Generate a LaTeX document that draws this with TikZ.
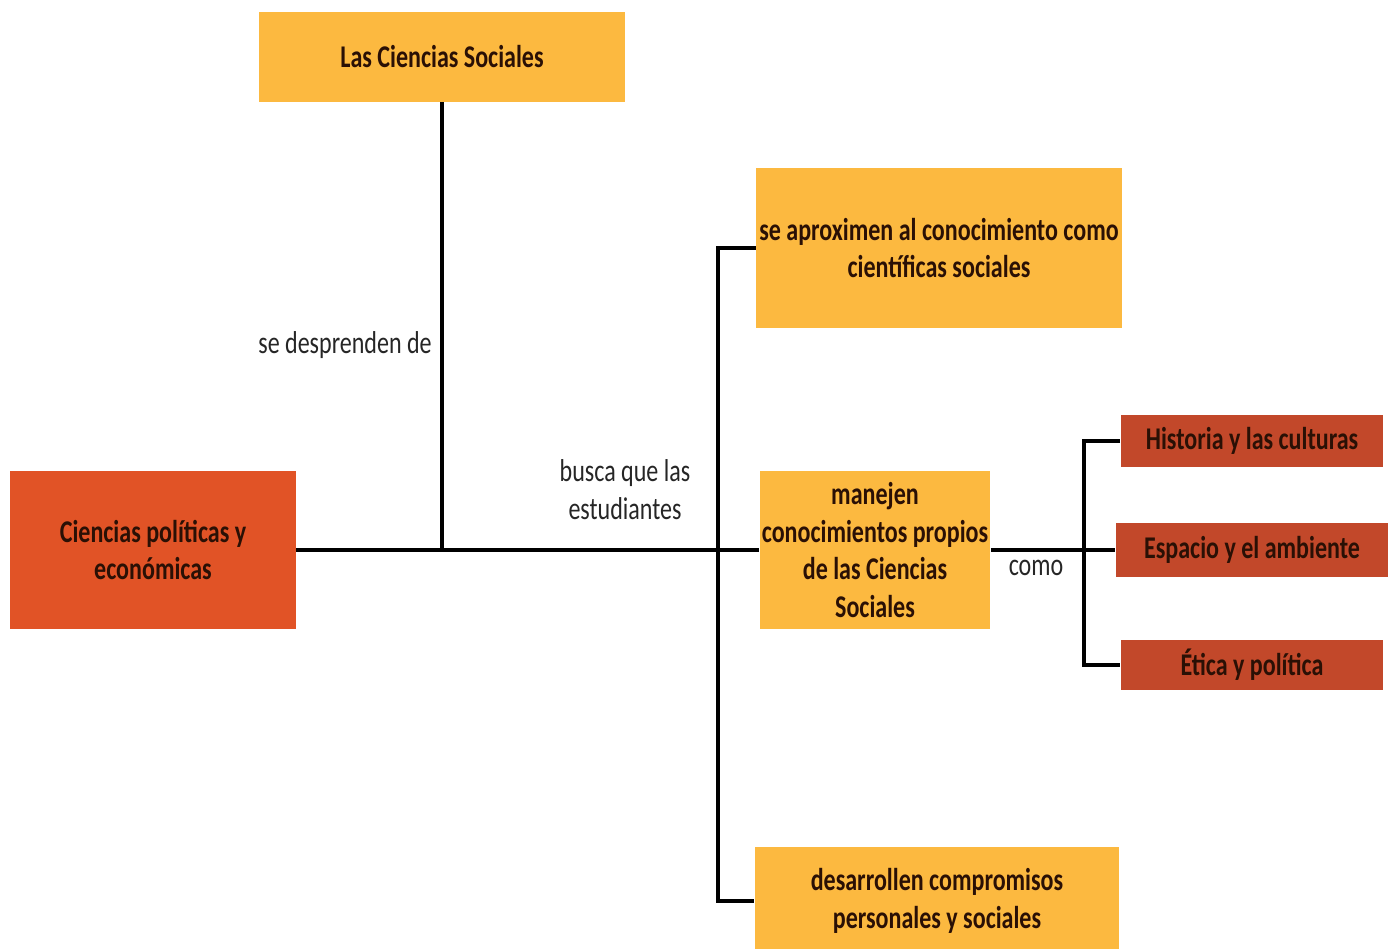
\documentclass[tikz,border=0pt]{standalone}
\usepackage{fontspec}
\setmainfont[FakeStretch=0.76]{Carlito}
\usepackage{tikz}
\usepackage{xcolor}
\usetikzlibrary{positioning, calc}

\definecolor{ambar}{HTML}{FCB940}
\definecolor{rojizo}{HTML}{E15326}
\definecolor{ladrillo}{HTML}{C2482A}
\definecolor{tinta}{HTML}{2A1005}

\tikzset{
    caja/.style={rectangle, inner sep=0pt, align=center, text=tinta,
        font=\fontsize{18}{21.5}\selectfont\bfseries},
    clara/.style={caja, fill=ambar},
    roja/.style={caja, fill=rojizo},
    oscura/.style={caja, fill=ladrillo},
    enlace/.style={font=\fontsize{18}{21.5}\selectfont, text=black!85, align=center, inner sep=0pt},
    conn/.style={line width=2pt, black},
    tronco/.style={conn, line width=2.6pt}
}

\begin{document}
\begin{tikzpicture}[x=0.02cm, y=-0.02cm]
    \useasboundingbox (0, 0) rectangle (1393, 949);

    \node[clara, minimum width=7.32cm, minimum height=1.8cm] (soc) at (442, 57) {Las Ciencias Sociales};
    \node[roja, minimum width=5.72cm, minimum height=3.16cm] (cpe) at (153, 550) {Ciencias políticas y\\económicas};
    \node[clara, minimum width=7.32cm, minimum height=3.2cm] (aprox) at (939, 248) {se aproximen al conocimiento como\\científicas sociales};
    \node[clara, minimum width=4.62cm, minimum height=3.18cm] (manejen) at (875, 550) {manejen\\conocimientos propios\\de las Ciencias\\Sociales};
    \node[clara, minimum width=7.3cm, minimum height=2.16cm] (desarr) at (937, 901) {desarrollen compromisos\\personales y sociales};
    \node[oscura, minimum width=5.26cm, minimum height=1.06cm] (hist) at (1252, 441) {Historia y las culturas};
    \node[oscura, minimum width=5.46cm, minimum height=1.08cm] (esp) at (1252, 550) {Espacio y el ambiente};
    \node[oscura, minimum width=5.26cm, minimum height=1.02cm] (etica) at (1252, 665) {Ética y política};

    % etiquetas de los enlaces
    \node[enlace, anchor=east] (desp) at (432, 345) {se desprenden de};
    \node[enlace] (busca) at (625, 490) {busca que las\\estudiantes};
    \node[enlace] (como) at (1036, 568) {como};

    \coordinate (bk) at (718, 550);
    \coordinate (bk2) at (1084, 550);

    \draw[tronco] (cpe.east) -- (manejen.west);
    \draw[conn] (soc.south) -- (soc.south |- cpe.east);
    \draw[conn] (aprox.west) -| (bk) |- (desarr.west);
    \draw[tronco] (manejen.east) -- (esp.west);
    \draw[conn] (hist.west) -| (bk2) |- (etica.west);
\end{tikzpicture}
\end{document}
